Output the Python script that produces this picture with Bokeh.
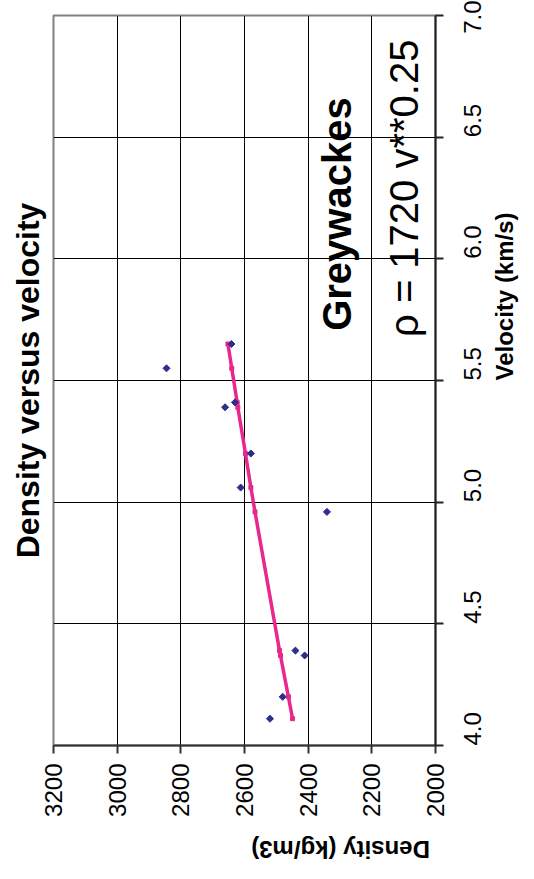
import math
from bokeh.plotting import figure
from bokeh.models import Range1d, LinearAxis, FixedTicker, PrintfTickFormatter, Label, Title, ColumnDataSource, Grid
from bokeh.embed import file_html
from bokeh.resources import INLINE

# measured data (velocity km/s, density kg/m3)
velocity = [5.55, 5.65, 5.39, 5.41, 5.20, 5.06, 4.96, 4.39, 4.37, 4.20, 4.11]
density = [2845, 2641, 2661, 2630, 2580, 2612, 2341, 2440, 2411, 2480, 2520]

# trend line (rho = 1720 v**0.25)
fit_velocity = [4.11, 4.20, 4.37, 4.39, 4.96, 5.06, 5.20, 5.39, 5.41, 5.55, 5.65]
fit_density = [2449, 2462, 2487, 2490, 2567, 2580, 2597, 2621, 2623, 2640, 2652]

density_ticks = [3200, 3000, 2800, 2600, 2400, 2200, 2000]
velocity_ticks = [4.0, 4.5, 5.0, 5.5, 6.0, 6.5, 7.0]

FONT = "Liberation Sans"

p = figure(width=534, height=879,
           x_range=Range1d(3200, 2000), y_range=Range1d(4.0, 7.0),
           output_backend="svg", toolbar_location=None,
           x_axis_location=None, y_axis_location=None,
           min_border_left=52, min_border_top=15,
           min_border_right=97, min_border_bottom=134)

p.background_fill_color = "white"
p.border_fill_color = "white"
p.outline_line_color = "#808080"
p.outline_line_width = 2

# density axis (bottom)
xa = LinearAxis(ticker=FixedTicker(ticks=density_ticks),
                formatter=PrintfTickFormatter(format="%d"),
                axis_label="Density  (kg/m3)")
xa.major_label_orientation = math.pi / 2
xa.major_label_text_font = FONT
xa.major_label_text_font_size = "24px"
xa.major_label_text_color = "black"
xa.major_label_standoff = 10
xa.major_tick_in = 0
xa.major_tick_out = 8
xa.minor_tick_in = 0
xa.minor_tick_out = 0
xa.axis_line_color = "#333333"
xa.axis_line_width = 2
xa.major_tick_line_color = "#333333"
xa.major_tick_line_width = 2
xa.axis_label_text_font = FONT
xa.axis_label_text_font_style = "bold"
xa.axis_label_text_font_size = "24px"
xa.axis_label_text_color = "black"
xa.axis_label_standoff = 30
xa.axis_label_orientation = math.pi
p.add_layout(xa, "below")

# velocity axis (right)
ya = LinearAxis(ticker=FixedTicker(ticks=velocity_ticks),
                formatter=PrintfTickFormatter(format="%.1f"),
                axis_label="Velocity  (km/s)")
ya.major_label_orientation = math.pi / 2
ya.major_label_text_font = FONT
ya.major_label_text_font_size = "24px"
ya.major_label_text_color = "black"
ya.major_label_standoff = 29
ya.major_tick_in = 0
ya.major_tick_out = 8
ya.minor_tick_in = 0
ya.minor_tick_out = 0
ya.axis_line_color = "#222222"
ya.axis_line_width = 2
ya.major_tick_line_color = "#222222"
ya.major_tick_line_width = 2
ya.axis_label_text_font = FONT
ya.axis_label_text_font_style = "bold"
ya.axis_label_text_font_size = "24px"
ya.axis_label_text_color = "black"
ya.axis_label_standoff = 12
ya.axis_label_orientation = math.pi / 2
p.add_layout(ya, "right")

# grids (inner lines only; frame drawn by outline/axes)
gx = Grid(dimension=0, ticker=FixedTicker(ticks=density_ticks[1:-1]),
          grid_line_color="black", grid_line_width=1)
gy = Grid(dimension=1, ticker=FixedTicker(ticks=velocity_ticks[1:-1]),
          grid_line_color="black", grid_line_width=1)
p.add_layout(gx)
p.add_layout(gy)

# title on the left, reading bottom-to-top
t = Title(text="Density versus velocity", text_font=FONT, text_font_style="bold",
          text_font_size="32px", text_color="black", align="center", standoff=15)
p.add_layout(t, "left")

# trend line
fit_src = ColumnDataSource(dict(x=fit_density, y=fit_velocity))
p.line("x", "y", source=fit_src, line_color="#E8288C", line_width=3.5)
p.scatter("x", "y", source=fit_src, marker="square", size=4,
          fill_color="#E8288C", line_color="#E8288C")

# data points
src = ColumnDataSource(dict(x=density, y=velocity))
p.scatter("x", "y", source=src, marker="square", size=5, angle=math.pi / 4,
          fill_color="#2E2E8F", line_color="#2E2E8F")

# in-plot annotations
p.add_layout(Label(x=2309, y=6.184, text="Greywackes", angle=math.pi / 2,
                   text_font=FONT, text_font_style="bold", text_font_size="40px",
                   text_color="black", text_align="center", text_baseline="middle"))
p.add_layout(Label(x=2100, y=6.29, text="\u03c1 = 1720 v**0.25", angle=math.pi / 2,
                   text_font=FONT, text_font_size="40px",
                   text_color="black", text_align="center", text_baseline="middle"))

open("out.html", "w").write(file_html(p, INLINE))
